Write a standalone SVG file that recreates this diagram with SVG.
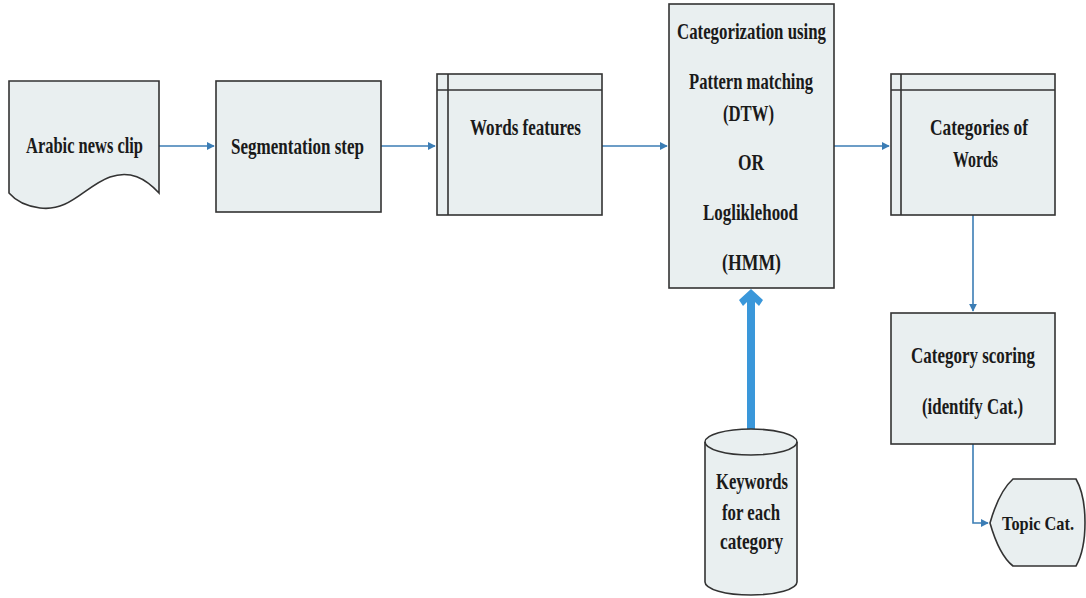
<svg xmlns="http://www.w3.org/2000/svg" width="1086" height="598" viewBox="0 0 1086 598">
<style>
.box{fill:#e9eff0;stroke:#333;stroke-width:1.6}
.ln{fill:none;stroke:#333;stroke-width:1.6}
.t{font-family:'Liberation Serif','DejaVu Serif',serif;font-weight:700;font-size:23px;fill:#1a1a1a;text-anchor:middle}
.c{fill:none;stroke:#3b7db5;stroke-width:1.6}
</style>
<defs>
<marker id="ah" viewBox="0 0 10 10" refX="9" refY="5" markerWidth="5" markerHeight="5" orient="auto" markerUnits="strokeWidth">
<path d="M0,0 L10,5 L0,10 Z" fill="#3b7db5"/>
</marker>
</defs>
<rect width="1086" height="598" fill="#fff"/>
<g id="connectors">
<path class="c" d="M159,146 L214,146" marker-end="url(#ah)"/>
<path class="c" d="M381,146 L435,146" marker-end="url(#ah)"/>
<path class="c" d="M602,146 L667,146" marker-end="url(#ah)"/>
<path class="c" d="M834,146 L889,146" marker-end="url(#ah)"/>
<path class="c" d="M973,215 L973,311" marker-end="url(#ah)"/>
<path class="c" d="M973,444 L973,523 L988,523" marker-end="url(#ah)"/>
<path id="thick-arrow" d="M751,289 L763,300 L759,306 L755,302 L755,429 L747,429 L747,302 L743,306 L739,300 Z" fill="#3a97da"/>
</g>
<g id="arabic-news-clip">
<path class="box" d="M9,81 L159,81 L159,193 C145,178 130,170 110,177 C85,186 70,212 40,208 C25,206 15,200 9,193 Z"/>
<text class="t" x="84.5" y="153" textLength="117" lengthAdjust="spacingAndGlyphs">Arabic news clip</text>
</g>
<g id="segmentation-step">
<rect class="box" x="216" y="81" width="165" height="131"/>
<text class="t" x="297.5" y="154" textLength="133" lengthAdjust="spacingAndGlyphs">Segmentation step</text>
</g>
<g id="words-features">
<rect class="box" x="437" y="74" width="165" height="141"/>
<path class="ln" d="M437,90 L602,90 M448,74 L448,215"/>
<text class="t" x="525.5" y="135" textLength="111" lengthAdjust="spacingAndGlyphs">Words features</text>
</g>
<g id="categorization">
<rect class="box" x="669" y="4" width="165" height="284"/>
<text class="t" x="751.5" y="39" textLength="149" lengthAdjust="spacingAndGlyphs">Categorization using</text>
<text class="t" x="751" y="89" textLength="124" lengthAdjust="spacingAndGlyphs">Pattern matching</text>
<text class="t" x="748.5" y="121" textLength="51" lengthAdjust="spacingAndGlyphs">(DTW)</text>
<text class="t" x="751" y="170" textLength="26" lengthAdjust="spacingAndGlyphs">OR</text>
<text class="t" x="750.5" y="220" textLength="95" lengthAdjust="spacingAndGlyphs">Logliklehood</text>
<text class="t" x="751.5" y="270" textLength="59" lengthAdjust="spacingAndGlyphs">(HMM)</text>
</g>
<g id="categories-of-words">
<rect class="box" x="891" y="74" width="164" height="141"/>
<path class="ln" d="M891,90 L1055,90 M901,74 L901,215"/>
<text class="t" x="979" y="135" textLength="98" lengthAdjust="spacingAndGlyphs">Categories of</text>
<text class="t" x="975.5" y="167" textLength="45" lengthAdjust="spacingAndGlyphs">Words</text>
</g>
<g id="category-scoring">
<rect class="box" x="891" y="313" width="164" height="131"/>
<text class="t" x="973" y="363" textLength="124" lengthAdjust="spacingAndGlyphs">Category scoring</text>
<text class="t" x="972.5" y="414" textLength="101" lengthAdjust="spacingAndGlyphs">(identify Cat.)</text>
</g>
<g id="keywords">
<path class="box" d="M705,442 L705,582 A46,13 0 0 0 797,582 L797,442 A46,13 0 0 0 705,442 Z"/>
<path class="ln" d="M705,442 A46,13 0 0 0 797,442"/>
<text class="t" x="752" y="489" textLength="72" lengthAdjust="spacingAndGlyphs">Keywords</text>
<text class="t" x="751" y="520" textLength="58" lengthAdjust="spacingAndGlyphs">for each</text>
<text class="t" x="751.5" y="549" textLength="63" lengthAdjust="spacingAndGlyphs">category</text>
</g>
<g id="topic-cat">
<path class="box" d="M990,523 C996,502 1004,487 1013,479 L1076,479 C1088,500 1088,545 1076,566 L1013,566 C1004,559 996,544 990,523 Z"/>
<text class="t" x="1038" y="530" textLength="72" lengthAdjust="spacingAndGlyphs" style="font-size:19px">Topic Cat.</text>
</g>
</svg>
